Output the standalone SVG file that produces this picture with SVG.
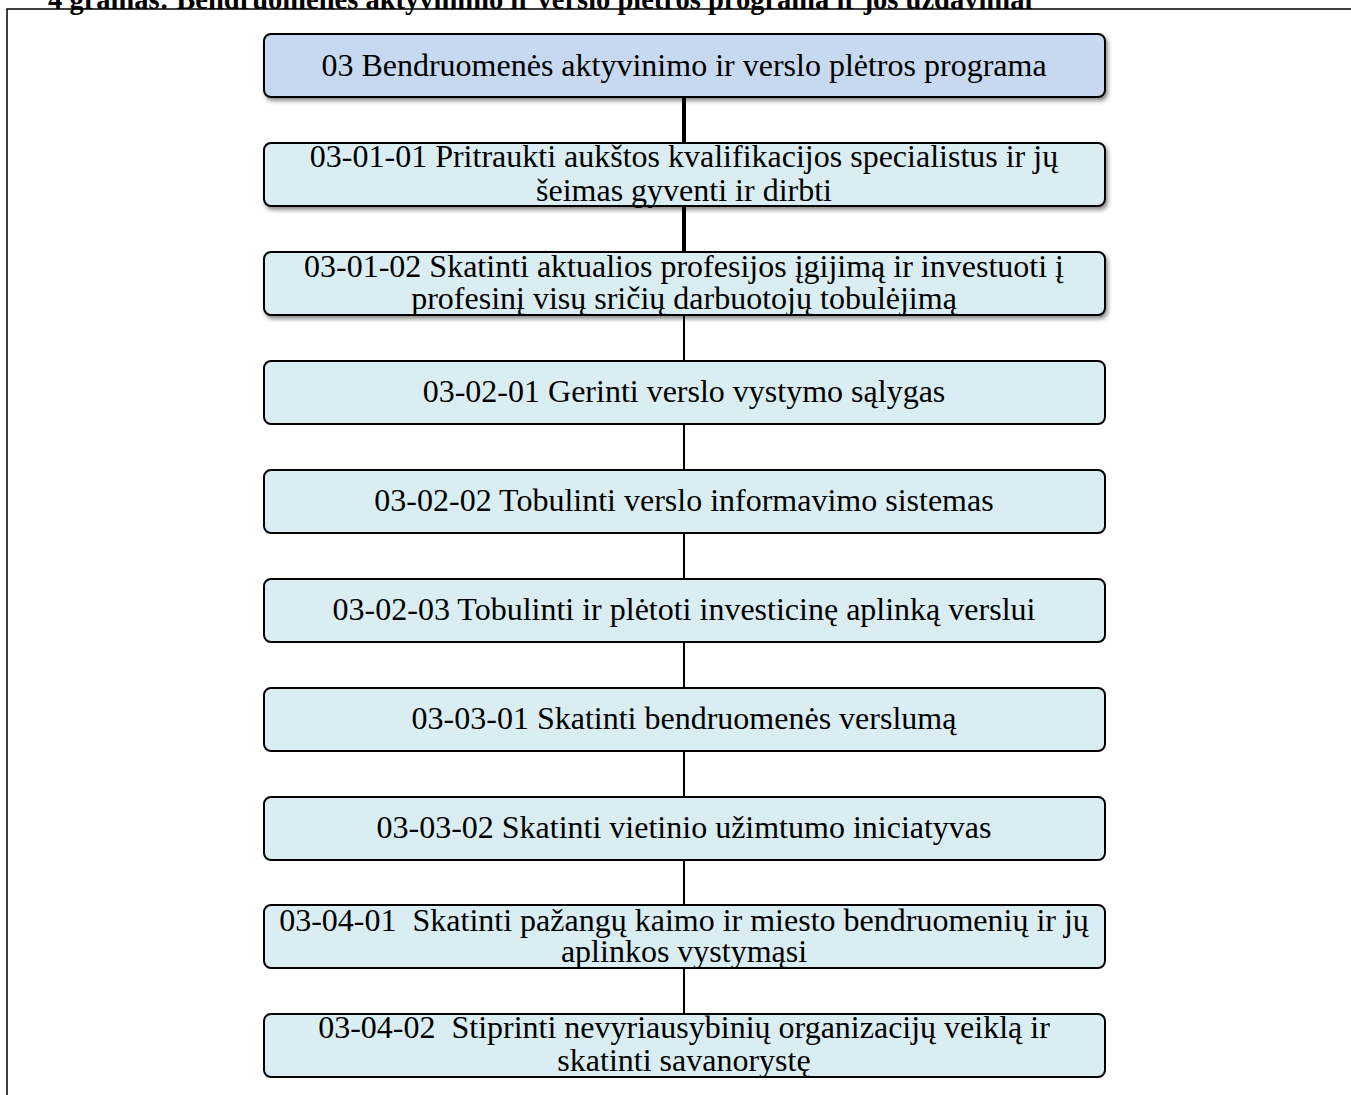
<svg xmlns="http://www.w3.org/2000/svg" width="1351" height="1095" viewBox="0 0 1351 1095">
<style>
.frame{fill:none;stroke:#000;stroke-width:1.5}
.title{font-family:"Liberation Serif","Times New Roman",serif;font-weight:bold;font-size:28.5px;fill:#000}
.box{stroke:#000;stroke-width:2;fill:#daedf3}
.box.top{fill:#c6d9f0}
.t{font-family:"Liberation Serif","Times New Roman",serif;font-size:32px;fill:#000;text-anchor:middle}
.thick{stroke:#000;stroke-width:4;fill:none}
.thin{stroke:#000;stroke-width:2;fill:none}
</style>
<defs>
<filter id="sh" x="-5%" y="-20%" width="110%" height="150%">
<feDropShadow dx="2" dy="3" stdDeviation="2" flood-color="#000" flood-opacity="0.45"/>
</filter>
</defs>
<rect width="1351" height="1095" fill="#fff"/>
<text class="title" x="48" y="9" xml:space="preserve">4 gramas: Bendruomenės aktyvinimo ir verslo plėtros programa ir jos uždaviniai</text>
<path class="frame" d="M7,1095 V9 H1351"/>
<g id="connectors">
<line class="thick" x1="684" y1="97" x2="684" y2="143"/>
<line class="thick" x1="684" y1="206" x2="684" y2="252"/>
<line class="thin" x1="684" y1="315" x2="684" y2="361"/>
<line class="thin" x1="684" y1="424" x2="684" y2="470"/>
<line class="thin" x1="684" y1="533" x2="684" y2="579"/>
<line class="thin" x1="684" y1="642" x2="684" y2="688"/>
<line class="thin" x1="684" y1="751" x2="684" y2="797"/>
<line class="thin" x1="684" y1="860" x2="684" y2="905"/>
<line class="thin" x1="684" y1="968" x2="684" y2="1014"/>
</g>
<g id="n03">
<rect class="box top" x="264" y="34" width="841" height="63" rx="7" filter="url(#sh)"/>
<text class="t" x="684" y="76">03 Bendruomenės aktyvinimo ir verslo plėtros programa</text>
</g>
<g id="n03-01-01">
<rect class="box" x="264" y="143" width="841" height="63" rx="7" filter="url(#sh)"/>
<text class="t" x="684" y="167">03-01-01 Pritraukti aukštos kvalifikacijos specialistus ir jų</text>
<text class="t" x="684" y="201">šeimas gyventi ir dirbti</text>
</g>
<g id="n03-01-02">
<rect class="box" x="264" y="252" width="841" height="63" rx="7" filter="url(#sh)"/>
<text class="t" x="684" y="277">03-01-02 Skatinti aktualios profesijos įgijimą ir investuoti į</text>
<text class="t" x="684" y="309">profesinį visų sričių darbuotojų tobulėjimą</text>
</g>
<g id="n03-02-01">
<rect class="box" x="264" y="361" width="841" height="63" rx="7"/>
<text class="t" x="684" y="402">03-02-01 Gerinti verslo vystymo sąlygas</text>
</g>
<g id="n03-02-02">
<rect class="box" x="264" y="470" width="841" height="63" rx="7"/>
<text class="t" x="684" y="511">03-02-02 Tobulinti verslo informavimo sistemas</text>
</g>
<g id="n03-02-03">
<rect class="box" x="264" y="579" width="841" height="63" rx="7"/>
<text class="t" x="684" y="620">03-02-03 Tobulinti ir plėtoti investicinę aplinką verslui</text>
</g>
<g id="n03-03-01">
<rect class="box" x="264" y="688" width="841" height="63" rx="7"/>
<text class="t" x="684" y="729">03-03-01 Skatinti bendruomenės verslumą</text>
</g>
<g id="n03-03-02">
<rect class="box" x="264" y="797" width="841" height="63" rx="7"/>
<text class="t" x="684" y="838">03-03-02 Skatinti vietinio užimtumo iniciatyvas</text>
</g>
<g id="n03-04-01">
<rect class="box" x="264" y="905" width="841" height="63" rx="7"/>
<text class="t" x="684" y="931" xml:space="preserve">03-04-01  Skatinti pažangų kaimo ir miesto bendruomenių ir jų</text>
<text class="t" x="684" y="962">aplinkos vystymąsi</text>
</g>
<g id="n03-04-02">
<rect class="box" x="264" y="1014" width="841" height="63" rx="7"/>
<text class="t" x="684" y="1038" xml:space="preserve">03-04-02  Stiprinti nevyriausybinių organizacijų veiklą ir</text>
<text class="t" x="684" y="1071">skatinti savanorystę</text>
</g>
</svg>
